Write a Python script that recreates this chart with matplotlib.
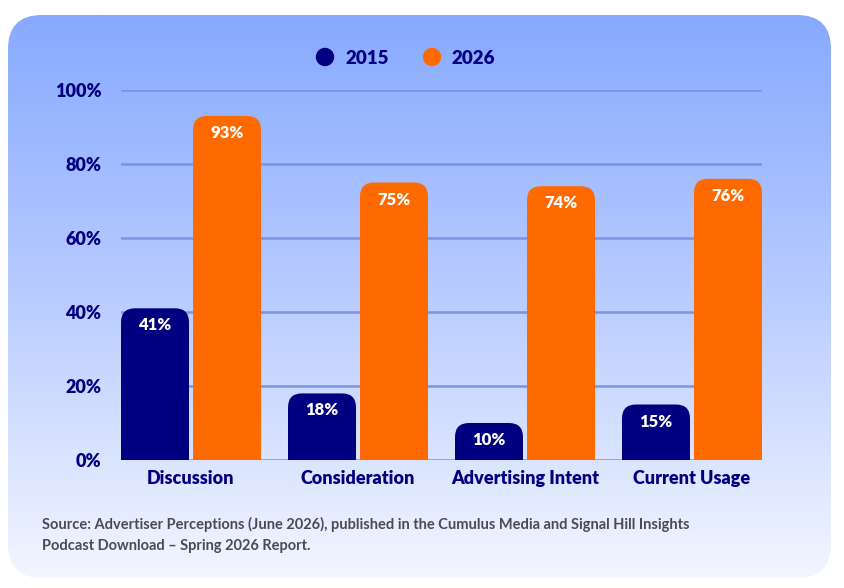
import numpy as np
import matplotlib
matplotlib.use("Agg")
import matplotlib.pyplot as plt
from matplotlib.patches import FancyBboxPatch
from matplotlib.colors import LinearSegmentedColormap

plt.rcParams['font.family'] = ['Lato', 'DejaVu Sans']

# data
categories = ["Discussion", "Consideration", "Advertising Intent", "Current Usage"]
vals_2015 = [41, 18, 10, 15]
vals_2026 = [93, 75, 74, 76]
series_names = ["2015", "2026"]
yticks = [0, 20, 40, 60, 80, 100]

navy = "#000080"
orange = "#ff6a00"
grid_c = "#7b93e6"

fig = plt.figure(figsize=(8.44, 5.88), dpi=100)

# card background with gradient
bg = fig.add_axes([0, 0, 1, 1])
bg.set_xlim(0, 844)
bg.set_ylim(588, 0)
bg.axis("off")
card = FancyBboxPatch((8, 15), 823, 563, boxstyle="round,pad=0,rounding_size=34",
                      facecolor="none", edgecolor="none")
bg.add_patch(card)
cmap = LinearSegmentedColormap.from_list("card", ["#87a9ff", "#b9ccff", "#f3f6ff"])
grad = np.linspace(0, 1, 256).reshape(-1, 1)
im = bg.imshow(grad, cmap=cmap, extent=[8, 831, 578, 15], aspect="auto", origin="upper")
im.set_clip_path(card)

# chart axes
ax = fig.add_axes([121 / 844, 128 / 588, 641 / 844, 370 / 588])
ax.patch.set_alpha(0)
x = np.arange(len(categories))
w = 68 / 167
gap = 4 / 167
ax.set_xlim(-w - gap / 2, len(categories) - 1 + w + gap / 2)
ax.set_ylim(0, 100)

# aspect for rounded corners (data units per pixel)
px_x = (ax.get_xlim()[1] - ax.get_xlim()[0]) / 641
px_y = 100 / 370
r = 14 * px_x
asp = px_y / px_x


def rounded_bar(xc, h, color):
    left = xc - w / 2
    ry = r * asp
    ax.bar(left, h - ry, width=w, align="edge", color=color, zorder=3, linewidth=0)
    p = FancyBboxPatch((left, h - 2.5 * ry), w, 2.5 * ry,
                       boxstyle=f"round,pad=0,rounding_size={r}",
                       mutation_aspect=asp, facecolor=color, edgecolor="none", zorder=3)
    ax.add_patch(p)
    ax.text(xc, h - 4.6, f"{h}%", ha="center", va="center", color="white",
            fontsize=12, fontweight="heavy", zorder=4)


for i in range(len(categories)):
    rounded_bar(x[i] - w / 2 - gap / 2, vals_2015[i], navy)
    rounded_bar(x[i] + w / 2 + gap / 2, vals_2026[i], orange)

for t in yticks:
    ax.axhline(t, color=grid_c, lw=1.8, zorder=1)

ax.set_yticks(yticks)
ax.set_yticklabels([f"{t}%" for t in yticks])
ax.set_xticks(x)
ax.set_xticklabels(categories)
ax.tick_params(axis="both", length=0, labelsize=13, labelcolor=navy)
ax.tick_params(axis="y", pad=14)
ax.tick_params(axis="x", pad=7.5)
for lab in ax.get_xticklabels() + ax.get_yticklabels():
    lab.set_fontweight("heavy")
for s in ax.spines.values():
    s.set_visible(False)

# legend
for cx, col, name in [(325, navy, series_names[0]), (432, orange, series_names[1])]:
    bg.add_patch(plt.Circle((cx, 57), 8.5, color=col))
    bg.text(cx + 20, 58, name, ha="left", va="center", fontsize=13.5,
            fontweight="heavy", color=navy)

# source
bg.text(42, 524, "Source: Advertiser Perceptions (June 2026), published in the Cumulus Media and Signal Hill Insights",
        fontsize=10.5, fontweight="bold", color="#4a4a55", va="center")
bg.text(42, 546, "Podcast Download \u2013 Spring 2026 Report.",
        fontsize=10.5, fontweight="bold", color="#4a4a55", va="center")

fig.savefig("out.png", dpi=100)
